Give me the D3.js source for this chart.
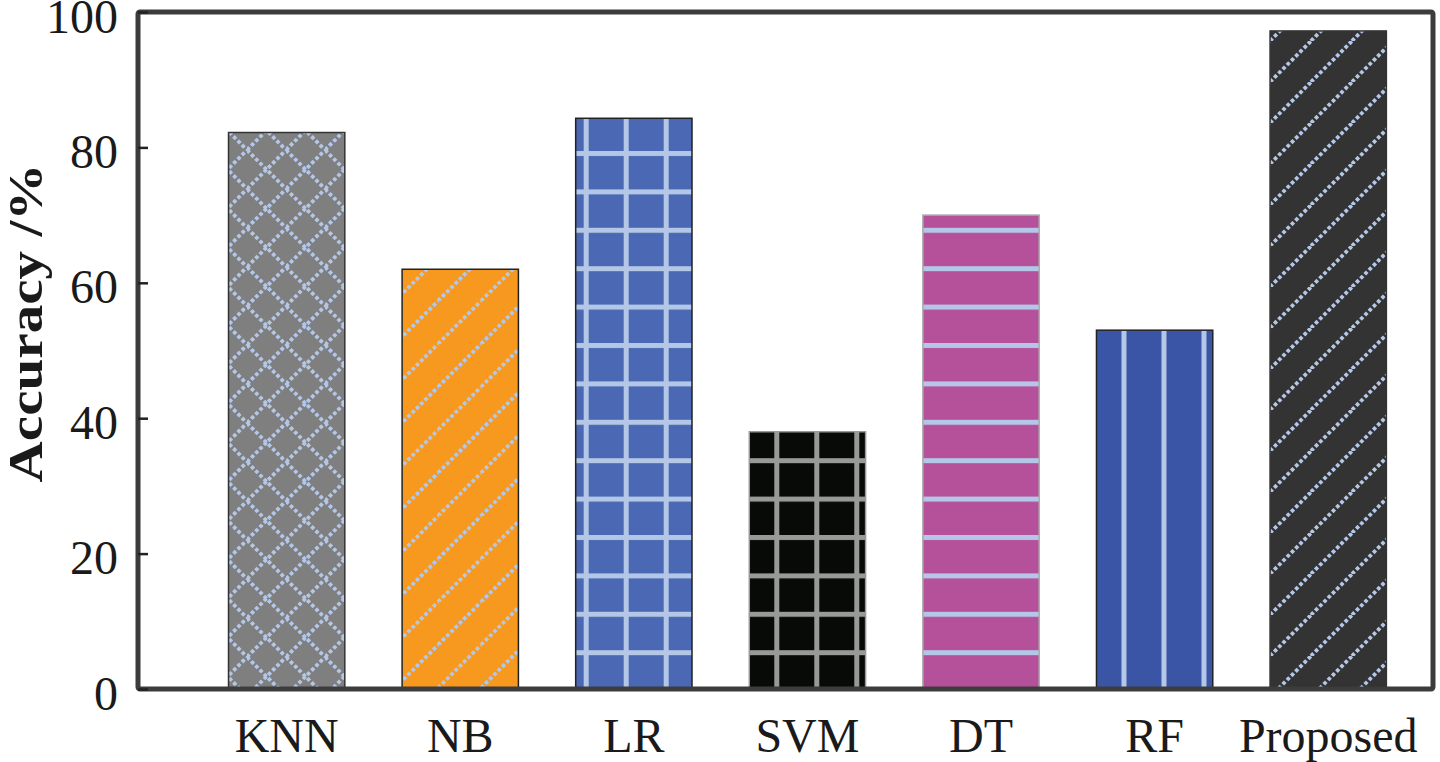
<!DOCTYPE html>
<html>
<head>
<meta charset="utf-8">
<script src="https://cdn.jsdelivr.net/npm/d3@7"></script>
<style>
  html, body { margin: 0; padding: 0; background: #fff; }
  svg { display: block; }
  text { font-family: "Liberation Serif", "Times New Roman", serif; fill: #1a1a1a; }
</style>
</head>
<body>
<svg id="chart" width="1440" height="762"></svg>
<script>
// ---- data ----
const categories = ["KNN", "NB", "LR", "SVM", "DT", "RF", "Proposed"];
const accuracy = [82.2, 62, 84.3, 38, 70, 53, 97.2];
const yTicks = [0, 20, 40, 60, 80, 100];
const yTitle = "Accuracy /%";

// ---- styles (per category) ----
const fillColors = ["#7f7f7f", "#f7991f", "#4a68b3", "#080a08", "#b5509a", "#3a55a6", "#333333"];
const patternKinds = ["diamond", "diag", "grid", "grid", "hlines", "vlines", "diag"];
const lineColors = ["#b4c7e7", "#b4c7e7", "#b4c7e7", "#999999", "#b4c7e7", "#b4c7e7", "#b4c7e7"];
const borderColors = ["#333", "#222", "#222", "#999", "#aaa", "#222", "#333"];
const lineOffsets = [0, 0, 8, 25, 0, 25, 0];

const svg = d3.select("#chart");
const plot = { left: 138, right: 1433, top: 12, bottom: 689 };

const x = d3.scaleBand()
  .domain(categories)
  .range([plot.left, plot.right])
  .paddingInner(0.33)
  .paddingOuter(0.395)
  .align(0.66);

const y = d3.scaleLinear().domain([0, 100]).range([plot.bottom, plot.top]);

// ---- patterns ----
const defs = svg.append("defs");
categories.forEach((c, i) => {
  const kind = patternKinds[i];
  const col = lineColors[i];
  const bg = fillColors[i];
  const id = "pat" + i;
  let p;
  if (kind === "diamond") {
    const s = 39;
    p = defs.append("pattern").attr("id", id).attr("patternUnits", "userSpaceOnUse")
      .attr("width", s).attr("height", s).attr("x", 247).attr("y", 150);
    p.append("rect").attr("width", s).attr("height", s).attr("fill", bg);
    [[0, 0, s, s], [0, s, s, 0]].forEach(l => {
      p.append("line").attr("x1", l[0]).attr("y1", l[1]).attr("x2", l[2]).attr("y2", l[3])
        .attr("stroke", col).attr("stroke-width", 3.8).attr("stroke-dasharray", "3.6,2.4");
    });
  } else if (kind === "diag") {
    const s = i === 1 ? 43 : 41;
    p = defs.append("pattern").attr("id", id).attr("patternUnits", "userSpaceOnUse")
      .attr("width", s).attr("height", s).attr("x", i === 1 ? 395 : 1270).attr("y", 0);
    p.append("rect").attr("width", s).attr("height", s).attr("fill", bg);
    [[-s, s, 0, 0], [0, s, s, 0], [s, s, 2 * s, 0]].forEach(l => {
      p.append("line").attr("x1", l[0]).attr("y1", l[1]).attr("x2", l[2]).attr("y2", l[3])
        .attr("stroke", col).attr("stroke-width", 3.8).attr("stroke-dasharray", "3.6,2.4");
    });
  } else {
    const sw = 40, sh = 38.4, lw = 5;
    p = defs.append("pattern").attr("id", id).attr("patternUnits", "userSpaceOnUse")
      .attr("width", sw).attr("height", sh)
      .attr("x", x(c) + lineOffsets[i]).attr("y", 153.5 - lw / 2);
    p.append("rect").attr("width", sw).attr("height", sh).attr("fill", bg);
    if (kind === "grid" || kind === "hlines") {
      p.append("rect").attr("x", 0).attr("y", 0).attr("width", sw).attr("height", lw).attr("fill", col);
    }
    if (kind === "grid" || kind === "vlines") {
      p.append("rect").attr("x", 0).attr("y", 0).attr("width", lw).attr("height", sh).attr("fill", col);
    }
  }
});

// ---- bars ----
svg.append("g").selectAll("rect")
  .data(categories)
  .join("rect")
  .attr("x", d => x(d))
  .attr("y", (d, i) => y(accuracy[i]))
  .attr("width", x.bandwidth())
  .attr("height", (d, i) => y(0) - y(accuracy[i]))
  .attr("fill", (d, i) => `url(#pat${i})`)
  .attr("stroke", (d, i) => borderColors[i])
  .attr("stroke-width", 1.5);

// ---- frame ----
svg.append("rect")
  .attr("x", plot.left).attr("y", plot.top)
  .attr("width", plot.right - plot.left).attr("height", plot.bottom - plot.top)
  .attr("fill", "none").attr("stroke", "#3c3c3c").attr("stroke-width", 5)
  .attr("rx", 2);

// ---- y axis ----
const yAxis = d3.axisLeft(y).tickValues(yTicks).tickSize(-10).tickPadding(20).tickFormat(d3.format("d"));
const gy = svg.append("g").attr("transform", `translate(${plot.left},0)`).call(yAxis);
gy.select(".domain").remove();
gy.selectAll(".tick line").attr("stroke", "#222").attr("stroke-width", 2.5);
gy.selectAll(".tick text")
  .attr("font-size", 48).attr("fill", "#1a1a1a")
  .attr("dy", "0.42em")
  .style("font-family", "'Liberation Serif', 'Times New Roman', serif");

// ---- x labels ----
const xAxis = d3.axisBottom(x).tickSize(0).tickPadding(0);
const gx = svg.append("g").attr("transform", `translate(0,${plot.bottom})`).call(xAxis);
gx.select(".domain").remove();
gx.selectAll(".tick text")
  .attr("font-size", 48).attr("fill", "#1a1a1a")
  .attr("y", 63).attr("dy", 0)
  .style("font-family", "'Liberation Serif', 'Times New Roman', serif");

// ---- y title (glyphs stretched along the text direction as in the reference) ----
svg.append("text")
  .attr("transform", "translate(42,323) rotate(-90) scale(1.19,1)")
  .attr("text-anchor", "middle")
  .attr("font-size", 48)
  .attr("font-weight", "bold")
  .text(yTitle);
</script>
</body>
</html>
